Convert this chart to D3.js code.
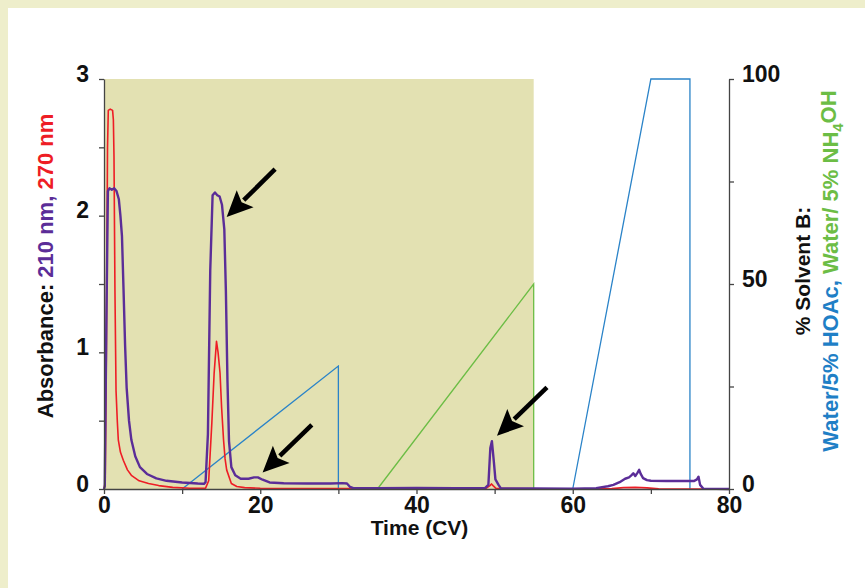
<script src="https://d3js.org/d3.v7.min.js"></script>
<style>
    body { margin: 0; background: #fff; }
    text { font-family: "Liberation Sans", Arial, sans-serif; font-weight: bold; }
</style>
<div id="my_dataviz"></div>

<script>
    // absorbance at 210 nm (purple)
    var t210 = [0, 0.1, 0.3, 0.5, 0.7, 1.0, 1.3, 1.6, 1.9, 2.1, 2.3, 2.5, 2.7, 2.9, 3.2, 3.5, 4.0, 4.6, 5.5, 6.7, 8.0, 10, 12, 12.8,
        13.0, 13.3, 13.6, 13.9, 14.2, 14.5, 14.8, 15.1, 15.4, 15.6, 15.8, 16.0, 16.3, 16.8, 17.5, 18.5, 19.2, 19.7, 20.3, 21.2,
        23, 26, 29, 30.5, 31.1, 31.5, 32, 35, 40, 45, 48.8, 49.2, 49.45, 49.65, 49.9, 50.1, 50.3, 50.5, 50.8, 55, 60, 63, 64.5,
        65.2, 66, 66.7, 67.2, 67.5, 67.75, 68, 68.3, 68.5, 68.7, 69, 69.5, 70, 72, 75.5, 75.9, 76.1, 76.3, 76.7, 80];
    var a210 = [0, 0.02, 1.2, 2.18, 2.2, 2.19, 2.2, 2.18, 2.12, 2.0, 1.85, 1.46, 1.05, 0.74, 0.5, 0.36, 0.24, 0.16, 0.11, 0.078, 0.06, 0.048, 0.04, 0.038,
        0.05, 0.4, 1.6, 2.15, 2.17, 2.15, 2.14, 2.08, 1.9, 1.45, 0.8, 0.35, 0.16, 0.1, 0.075, 0.075, 0.085, 0.085, 0.068, 0.048,
        0.042, 0.04, 0.04, 0.043, 0.04, 0.015, 0.005, 0.005, 0.008, 0.006, 0.008, 0.03, 0.3, 0.35, 0.2, 0.07, 0.05, 0.03, 0.005, 0.004, 0.003, 0.006, 0.02,
        0.03, 0.05, 0.075, 0.085, 0.1, 0.115, 0.095, 0.12, 0.14, 0.11, 0.08, 0.065, 0.06, 0.058, 0.058, 0.07, 0.09, 0.03, 0.003, 0];

    // absorbance at 270 nm (red)
    var t270 = [0, 0.15, 0.3, 0.45, 0.55, 0.8, 1.1, 1.2, 1.28, 1.4, 1.54, 1.7, 1.83, 2.1, 2.47, 3.0, 3.5, 4.5, 5.7, 7, 8.8, 11,
        13.0, 13.4, 13.8, 14.1, 14.4, 14.6, 14.85, 15.05, 15.3, 15.5, 15.7, 16.3, 17, 18, 20, 30, 40, 48.9, 49.4, 49.6, 49.8,
        50.2, 55, 65, 66.5, 68, 69.5, 71, 80];
    var a270 = [0, 0.05, 1.0, 2.5, 2.77, 2.78, 2.77, 2.7, 2.43, 1.46, 0.72, 0.5, 0.36, 0.27, 0.21, 0.14, 0.1, 0.06, 0.04, 0.025, 0.012, 0.006,
        0.006, 0.06, 0.48, 0.85, 1.08, 1.0, 0.85, 0.6, 0.36, 0.22, 0.14, 0.04, 0.018, 0.01, 0.005, 0.003, 0.003, 0.004, 0.025, 0.037, 0.025,
        0.003, 0.002, 0.003, 0.01, 0.012, 0.008, 0.002, 0];

    // % solvent B gradients (null = pen up)
    var tHoac = [10, 30, 30, null, 60, 70, 75, 75];
    var bHoac = [0, 30, 0, null, 0, 100, 100, 0];
    var tNh4 = [35, 55, 55];
    var bNh4 = [0, 50, 0];
    var shadeEnd = 55;

    // arrows: [tailX, tailY, tipX, tipY] in data units
    var arrows = [[21.9, 2.34, 15.7, 1.99], [26.6, 0.47, 20.3, 0.12], [56.7, 0.744, 50.3, 0.39]];

    var xTicks = [0, 10, 20, 30, 40, 50, 60, 70, 80];
    var yTicks = [0, 0.5, 1, 1.5, 2, 2.5, 3];
    var bTicks = [0, 25, 50, 75, 100];

    var W = 865, H = 588;
    var margin = {top: 79, right: 136, bottom: 99, left: 104},
        width = W - margin.left - margin.right,
        height = H - margin.top - margin.bottom;

    var root = d3.select("#my_dataviz")
        .append("svg")
        .attr("width", W)
        .attr("height", H);

    // page frame
    root.append("rect").attr("x", 0).attr("y", 0).attr("width", W).attr("height", 8).attr("fill", "#eeeecb");
    root.append("rect").attr("x", 0).attr("y", 0).attr("width", 8).attr("height", H).attr("fill", "#eeeecb");

    var svg = root.append("g")
        .attr("transform", "translate(" + margin.left + "," + margin.top + ")");

    var x = d3.scaleLinear().domain([0, 80]).range([0, width]);
    var y = d3.scaleLinear().domain([0, 3]).range([height, 0]);
    var yB = d3.scaleLinear().domain([0, 100]).range([height, 0]);

    // shaded NH4OH region
    svg.append("rect")
        .attr("x", x(0))
        .attr("y", y(3))
        .attr("width", x(shadeEnd) - x(0))
        .attr("height", y(0) - y(3))
        .attr("fill", "#e3e1b2");

    // gradient lines
    var gLine = d3.line()
        .defined(function (d) { return d[0] !== null; })
        .x(function (d) { return x(d[0]); })
        .y(function (d) { return yB(d[1]); });

    svg.append("path")
        .datum(tHoac.map(function (t, i) { return [t, bHoac[i]]; }))
        .attr("d", gLine)
        .attr("fill", "none")
        .attr("stroke", "#2a83c8")
        .attr("stroke-width", 1.3);

    svg.append("path")
        .datum(tNh4.map(function (t, i) { return [t, bNh4[i]]; }))
        .attr("d", gLine)
        .attr("fill", "none")
        .attr("stroke", "#6cbd45")
        .attr("stroke-width", 1.3);

    // absorbance traces
    var aLine = d3.line()
        .x(function (d) { return x(d[0]); })
        .y(function (d) { return y(d[1]); });

    svg.append("path")
        .datum(t270.map(function (t, i) { return [t, a270[i]]; }))
        .attr("d", aLine)
        .attr("fill", "none")
        .attr("stroke", "#ee1d25")
        .attr("stroke-width", 1.6)
        .attr("stroke-linejoin", "round");

    svg.append("path")
        .datum(t210.map(function (t, i) { return [t, a210[i]]; }))
        .attr("d", aLine)
        .attr("fill", "none")
        .attr("stroke", "#5b2d98")
        .attr("stroke-width", 2.4)
        .attr("stroke-linejoin", "round");

    // axes
    function styleAxis(g) {
        g.select(".domain").attr("stroke", "#444").attr("stroke-width", 1.3);
        g.selectAll(".tick line").attr("stroke", "#444").attr("stroke-width", 1.3);
        g.selectAll(".tick text")
            .attr("fill", "#111")
            .style("font-size", "23px")
            .style("font-weight", "bold");
    }

    svg.append("g")
        .attr("transform", "translate(0," + height + ")")
        .call(d3.axisBottom(x).tickValues(xTicks).tickSize(5).tickSizeOuter(0).tickPadding(3)
            .tickFormat(function (d) { return d % 20 === 0 ? d : ""; }))
        .call(styleAxis);

    svg.append("g")
        .call(d3.axisLeft(y).tickValues(yTicks).tickSize(5).tickSizeOuter(0).tickPadding(10)
            .tickFormat(function (d) { return d % 1 === 0 ? d : ""; }))
        .call(styleAxis)
        .selectAll(".tick text").attr("dy", "0.1em");

    svg.append("g")
        .attr("transform", "translate(" + width + ",0)")
        .call(d3.axisRight(yB).tickValues(bTicks).tickSize(5).tickSizeOuter(0).tickPadding(8)
            .tickFormat(function (d) { return d % 50 === 0 ? d : ""; }))
        .call(styleAxis)
        .selectAll(".tick text").attr("dy", "0.1em");

    // arrows
    arrows.forEach(function (a) {
        var x1 = x(a[0]), y1 = y(a[1]), x2 = x(a[2]), y2 = y(a[3]);
        var dx = x2 - x1, dy = y2 - y1, len = Math.sqrt(dx * dx + dy * dy);
        var ux = dx / len, uy = dy / len;
        var hl = 26, hw = 12;
        var bx = x2 - ux * hl, by = y2 - uy * hl;
        svg.append("line")
            .attr("x1", x1).attr("y1", y1)
            .attr("x2", bx + ux * 2).attr("y2", by + uy * 2)
            .attr("stroke", "#000")
            .attr("stroke-width", 4.5);
        svg.append("path")
            .attr("d", "M" + x2 + "," + y2 +
                "L" + (bx - uy * hw) + "," + (by + ux * hw) +
                "L" + (bx + ux * 5) + "," + (by + uy * 5) +
                "L" + (bx + uy * hw) + "," + (by - ux * hw) + "Z")
            .attr("fill", "#000");
    });

    // axis titles
    svg.append("text")
        .attr("x", width / 2 + 3)
        .attr("y", height + 46)
        .style("text-anchor", "middle")
        .style("font-size", "21px")
        .attr("fill", "#111")
        .text("Time (CV)");

    var yl = root.append("text")
        .attr("transform", "translate(53,266) rotate(-90)")
        .style("text-anchor", "middle")
        .style("font-size", "22px");
    yl.append("tspan").attr("fill", "#111").text("Absorbance: ");
    yl.append("tspan").attr("fill", "#5b2d98").text("210 nm, ");
    yl.append("tspan").attr("fill", "#ee1d25").text("270 nm");

    root.append("text")
        .attr("transform", "translate(810,271) rotate(-90)")
        .style("text-anchor", "middle")
        .style("font-size", "21px")
        .attr("fill", "#111")
        .text("% Solvent B:");

    var rl = root.append("text")
        .attr("transform", "translate(838,271) rotate(-90)")
        .style("text-anchor", "middle")
        .style("font-size", "22px");
    rl.append("tspan").attr("fill", "#1f7fc6").text("Water/5% HOAc, ");
    rl.append("tspan").attr("fill", "#6cbd45").text("Water/ 5% NH");
    rl.append("tspan").attr("fill", "#6cbd45").attr("dy", "0.3em").style("font-size", "15px").text("4");
    rl.append("tspan").attr("fill", "#6cbd45").attr("dy", "-0.3em").text("OH");
</script>
